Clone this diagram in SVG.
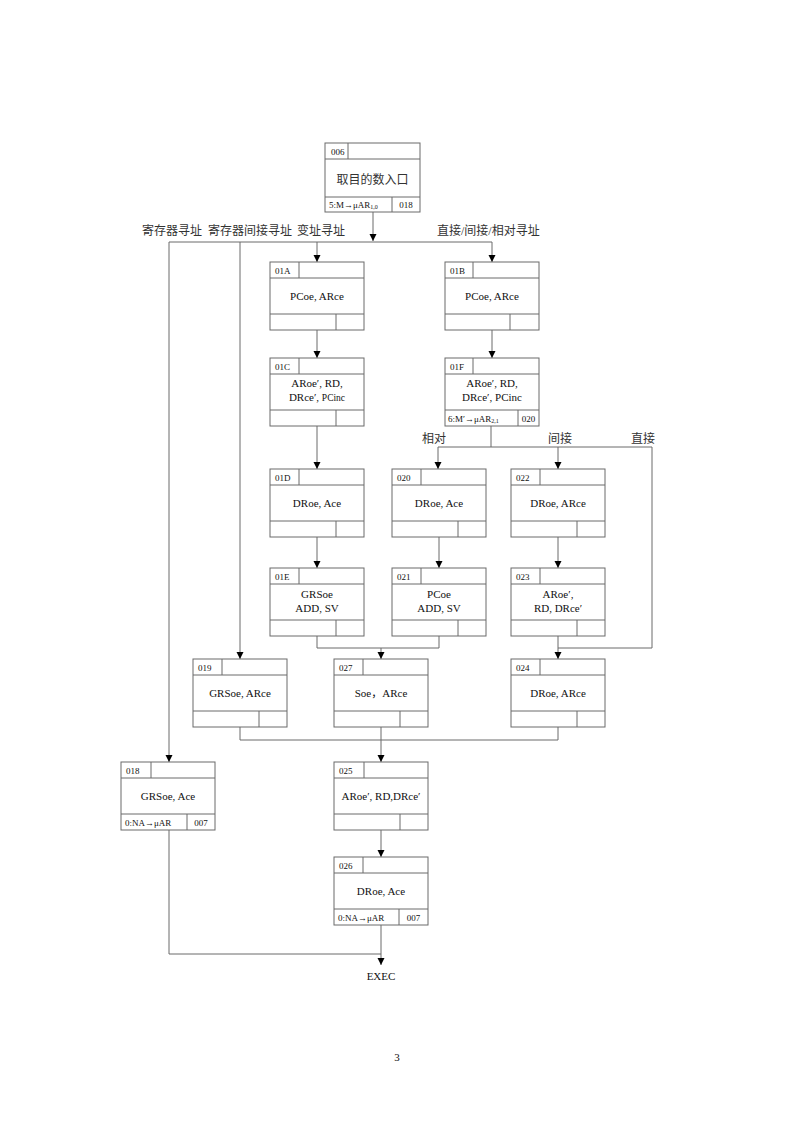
<svg xmlns="http://www.w3.org/2000/svg" width="800" height="1132" viewBox="0 0 800 1132">
<style>
.box{fill:#fff;stroke:#6a6a6a;stroke-width:1}
.ln{fill:none;stroke:#6a6a6a;stroke-width:1}
.con{fill:none;stroke:#6a6a6a;stroke-width:1}
.arr{marker-end:url(#ah)}
text{font-family:"Liberation Serif","Noto Sans CJK SC",serif;fill:#111}
.id{font-size:9px}
.t{font-size:11px;text-anchor:middle}
.s{font-size:9px}
.sub{font-size:6px}
.cj{font-size:12px;fill:#333;font-family:"Liberation Serif","Noto Sans CJK SC",sans-serif}
</style>
<defs>
<marker id="ah" markerWidth="8" markerHeight="8" refX="7" refY="4" orient="auto" markerUnits="userSpaceOnUse">
<path d="M0,0.5 L7,4 L0,7.5 z" fill="#000"/>
</marker>
</defs>
<rect width="800" height="1132" fill="#fff"/>

<g id="connectors">
<path class="con arr" d="M373,212 V241"/>
<path class="con" d="M169,242 H492"/>
<path class="con arr" d="M169,242 V762"/>
<path class="con arr" d="M240,242 V659"/>
<path class="con arr" d="M317,242 V262"/>
<path class="con arr" d="M492,242 V262"/>
<path class="con arr" d="M317,330 V358"/>
<path class="con arr" d="M492,330 V358"/>
<path class="con arr" d="M317,426 V469"/>
<path class="con" d="M491,426 V447"/>
<path class="con" d="M438,447 H652 V648 H558"/>
<path class="con arr" d="M438,447 V469"/>
<path class="con arr" d="M558,447 V469"/>
<path class="con arr" d="M317,537 V568"/>
<path class="con arr" d="M439,537 V568"/>
<path class="con arr" d="M558,537 V568"/>
<path class="con" d="M317,636 V648 H439 V636"/>
<path class="con arr" d="M381,648 V659"/>
<path class="con arr" d="M558,636 V659"/>
<path class="con" d="M240,727 V740 H558 V727"/>
<path class="con arr" d="M381,727 V762"/>
<path class="con arr" d="M381,830 V857"/>
<path class="con arr" d="M381,925 V965"/>
<path class="con" d="M169,830 V954 H381"/>
</g>

<g id="labels">
<text class="cj" x="142" y="235">寄存器寻址</text>
<text class="cj" x="208" y="235">寄存器间接寻址</text>
<text class="cj" x="297" y="235">变址寻址</text>
<text class="cj" x="437" y="235">直接/间接/相对寻址</text>
<text class="cj" x="434" y="443" text-anchor="middle">相对</text>
<text class="cj" x="560" y="443" text-anchor="middle">间接</text>
<text class="cj" x="643" y="443" text-anchor="middle">直接</text>
</g>

<g id="n006">
<rect class="box" x="325" y="143" width="95" height="69"/>
<path class="ln" d="M325,159 H420 M325,197 H420 M348,143 V159 M392,197 V212"/>
<text class="id" x="331" y="155">006</text>
<text class="cj" x="372.5" y="184" text-anchor="middle">取目的数入口</text>
<text class="s" x="329" y="207.5">5:M→μAR<tspan class="sub" dy="1.5">1,0</tspan></text>
<text class="s" x="406" y="208" text-anchor="middle">018</text>
</g>

<g id="n01A">
<rect class="box" x="270" y="262" width="94" height="68"/>
<path class="ln" d="M270,278 H364 M270,314 H364 M299,262 V278 M336,314 V330"/>
<text class="id" x="275" y="274">01A</text>
<text class="t" x="317" y="300">PCoe, ARce</text>
</g>

<g id="n01B">
<rect class="box" x="445" y="262" width="94" height="68"/>
<path class="ln" d="M445,278 H539 M445,314 H539 M473,262 V278 M510,314 V330"/>
<text class="id" x="450" y="274">01B</text>
<text class="t" x="492" y="300">PCoe, ARce</text>
</g>

<g id="n01C">
<rect class="box" x="270" y="358" width="94" height="68"/>
<path class="ln" d="M270,374 H364 M270,410 H364 M299,358 V374 M336,410 V426"/>
<text class="id" x="275" y="370">01C</text>
<text class="t" x="317" y="387">ARoe′, RD,</text>
<text class="t" x="317" y="401">DRce′, <tspan font-size="9.5">PCinc</tspan></text>
</g>

<g id="n01F">
<rect class="box" x="445" y="358" width="94" height="68"/>
<path class="ln" d="M445,374 H539 M445,410 H539 M473,358 V374 M518,410 V426"/>
<text class="id" x="450" y="370">01F</text>
<text class="t" x="492" y="387">ARoe′, RD,</text>
<text class="t" x="492" y="401">DRce′, PCinc</text>
<text class="s" x="448" y="421.5">6:M′→μAR<tspan class="sub" dy="1.5">2,1</tspan></text>
<text class="s" x="528.5" y="422" text-anchor="middle">020</text>
</g>

<g id="n01D">
<rect class="box" x="270" y="469" width="94" height="68"/>
<path class="ln" d="M270,485 H364 M270,521 H364 M299,469 V485 M336,521 V537"/>
<text class="id" x="275" y="481">01D</text>
<text class="t" x="317" y="507">DRoe, Ace</text>
</g>

<g id="n020">
<rect class="box" x="392" y="469" width="94" height="68"/>
<path class="ln" d="M392,485 H486 M392,521 H486 M421,469 V485 M458,521 V537"/>
<text class="id" x="397" y="481">020</text>
<text class="t" x="439" y="507">DRoe, Ace</text>
</g>

<g id="n022">
<rect class="box" x="511" y="469" width="94" height="68"/>
<path class="ln" d="M511,485 H605 M511,521 H605 M540,469 V485 M577,521 V537"/>
<text class="id" x="516" y="481">022</text>
<text class="t" x="558" y="507">DRoe, ARce</text>
</g>

<g id="n01E">
<rect class="box" x="270" y="568" width="94" height="68"/>
<path class="ln" d="M270,584 H364 M270,620 H364 M299,568 V584 M336,620 V636"/>
<text class="id" x="275" y="580">01E</text>
<text class="t" x="317" y="598" font-size="9.5">GRSoe</text>
<text class="t" x="317" y="612">ADD, SV</text>
</g>

<g id="n021">
<rect class="box" x="392" y="568" width="94" height="68"/>
<path class="ln" d="M392,584 H486 M392,620 H486 M421,568 V584 M458,620 V636"/>
<text class="id" x="397" y="580">021</text>
<text class="t" x="439" y="598">PCoe</text>
<text class="t" x="439" y="612">ADD, SV</text>
</g>

<g id="n023">
<rect class="box" x="511" y="568" width="94" height="68"/>
<path class="ln" d="M511,584 H605 M511,620 H605 M540,568 V584 M577,620 V636"/>
<text class="id" x="516" y="580">023</text>
<text class="t" x="558" y="598">ARoe′,</text>
<text class="t" x="558" y="612">RD, DRce′</text>
</g>

<g id="n019">
<rect class="box" x="193" y="659" width="94" height="68"/>
<path class="ln" d="M193,675 H287 M193,711 H287 M222,659 V675 M259,711 V727"/>
<text class="id" x="198" y="671">019</text>
<text class="t" x="240" y="697">GRSoe, ARce</text>
</g>

<g id="n027">
<rect class="box" x="334" y="659" width="94" height="68"/>
<path class="ln" d="M334,675 H428 M334,711 H428 M363,659 V675 M400,711 V727"/>
<text class="id" x="339" y="671">027</text>
<text class="t" x="381" y="697">Soe，ARce</text>
</g>

<g id="n024">
<rect class="box" x="511" y="659" width="94" height="68"/>
<path class="ln" d="M511,675 H605 M511,711 H605 M540,659 V675 M577,711 V727"/>
<text class="id" x="516" y="671">024</text>
<text class="t" x="558" y="697">DRoe, ARce</text>
</g>

<g id="n018">
<rect class="box" x="121" y="762" width="94" height="68"/>
<path class="ln" d="M121,778 H215 M121,814 H215 M151,762 V778 M187,814 V830"/>
<text class="id" x="126" y="774">018</text>
<text class="t" x="168" y="800">GRSoe, Ace</text>
<text class="s" x="125" y="826">0:NA→μAR</text>
<text class="s" x="201" y="826" text-anchor="middle">007</text>
</g>

<g id="n025">
<rect class="box" x="334" y="762" width="94" height="68"/>
<path class="ln" d="M334,778 H428 M334,814 H428 M364,762 V778 M400,814 V830"/>
<text class="id" x="339" y="774">025</text>
<text class="t" x="381" y="800">ARoe′, RD,DRce′</text>
</g>

<g id="n026">
<rect class="box" x="334" y="857" width="94" height="68"/>
<path class="ln" d="M334,873 H428 M334,909 H428 M363,857 V873 M399,909 V925"/>
<text class="id" x="339" y="869">026</text>
<text class="t" x="381" y="895">DRoe, Ace</text>
<text class="s" x="338" y="921">0:NA→μAR</text>
<text class="s" x="413.5" y="921" text-anchor="middle">007</text>
</g>

<g id="exec">
<text class="t" x="381" y="980">EXEC</text>
</g>

<text x="397" y="1061" font-size="11" text-anchor="middle">3</text>
</svg>
